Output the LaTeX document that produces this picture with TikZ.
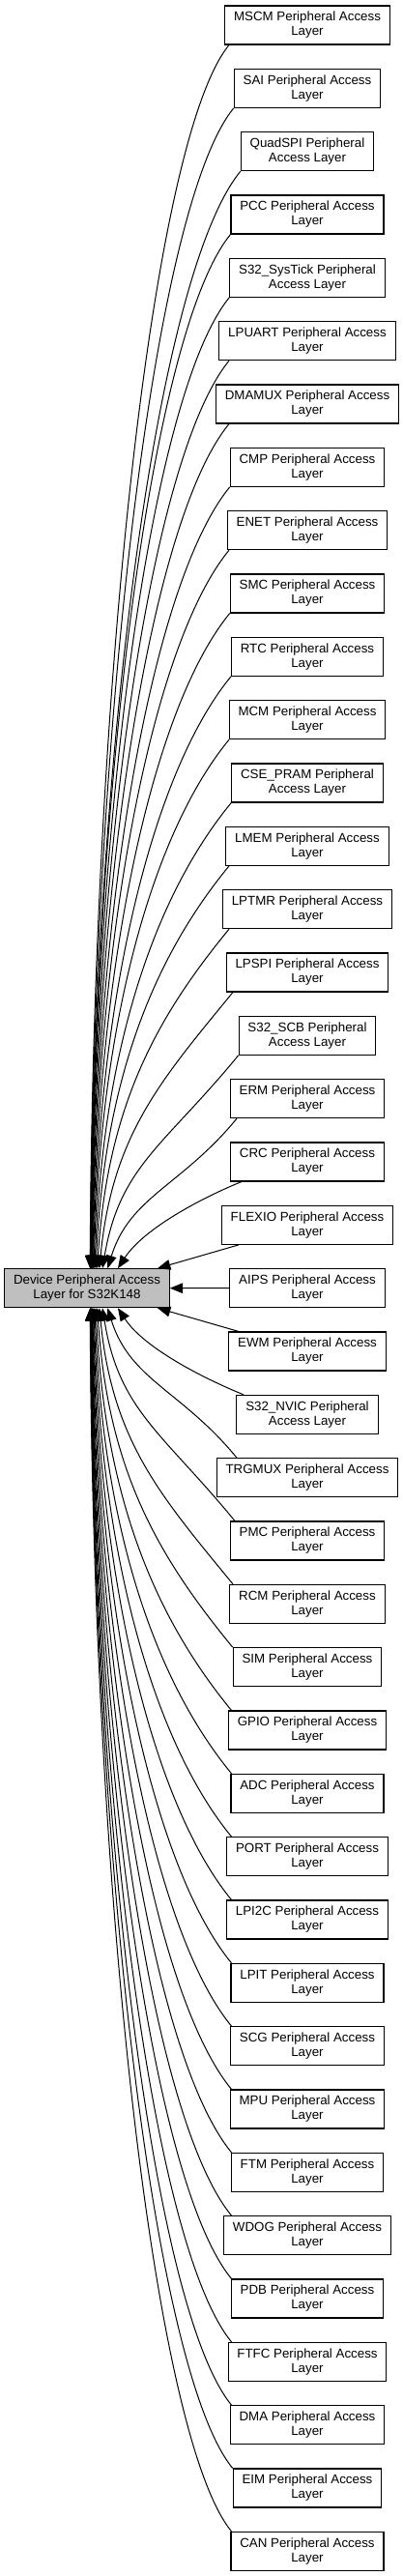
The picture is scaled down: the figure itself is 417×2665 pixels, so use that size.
\documentclass[tikz,border=0pt]{standalone}
\usepackage{fontspec}
\setmainfont{Liberation Sans}
\usetikzlibrary{arrows.meta,calc}
\definecolor{mainfill}{RGB}{191,191,191}
\newcommand\pedge[6]{%
  \draw[arr] let \p0=(main.#3 -| #5), \p1=(#1.#2),
    \n1={max(\x1,#4*0.75pt)},
    \n2={\n1-\x0},
    \n3={#6*(\y1-\y0)},
    \n4={min(1,0.45*\n3/(0.67*\n2))},
    \n5={min(1,\n2/\n3)}
  in (\p0) .. controls ({\x0+0.2*\n2*\n5*1pt}, {\y0+#6*0.48*\n3*1pt})
            and ({(\n1-0.55*\n2*\n4)*1pt}, {\y1-#6*0.67*\n2*\n4*1pt}) .. ({\n1*1pt},\y1);
}
\begin{document}
\begin{tikzpicture}[x=0.75pt,y=-0.75pt,
  box/.style={draw=black,line width=0.8pt,fill=white,
    font=\fontsize{10}{11.25}\selectfont,align=center,
    inner xsep=7pt,inner ysep=0pt,minimum height=30pt},
  mainbox/.style={box,fill=mainfill},
  arr/.style={line width=0.75pt,{Triangle[length=10pt,width=8pt]}-}]
\useasboundingbox (0,0) rectangle (417,2665);
\node[mainbox] (main) at (90,1332.7) {Device Peripheral Access\\Layer for S32K148};
\foreach \i/\t in {
1/{MSCM Peripheral Access\\Layer},
2/{SAI Peripheral Access\\Layer},
3/{QuadSPI Peripheral\\Access Layer},
4/{PCC Peripheral Access\\Layer},
5/{S32\_SysTick Peripheral\\Access Layer},
6/{LPUART Peripheral Access\\Layer},
7/{DMAMUX Peripheral Access\\Layer},
8/{CMP Peripheral Access\\Layer},
9/{ENET Peripheral Access\\Layer},
10/{SMC Peripheral Access\\Layer},
11/{RTC Peripheral Access\\Layer},
12/{MCM Peripheral Access\\Layer},
13/{CSE\_PRAM Peripheral\\Access Layer},
14/{LMEM Peripheral Access\\Layer},
15/{LPTMR Peripheral Access\\Layer},
16/{LPSPI Peripheral Access\\Layer},
17/{S32\_SCB Peripheral\\Access Layer},
18/{ERM Peripheral Access\\Layer},
19/{CRC Peripheral Access\\Layer},
20/{FLEXIO Peripheral Access\\Layer},
21/{AIPS Peripheral Access\\Layer},
22/{EWM Peripheral Access\\Layer},
23/{S32\_NVIC Peripheral\\Access Layer},
24/{TRGMUX Peripheral Access\\Layer},
25/{PMC Peripheral Access\\Layer},
26/{RCM Peripheral Access\\Layer},
27/{SIM Peripheral Access\\Layer},
28/{GPIO Peripheral Access\\Layer},
29/{ADC Peripheral Access\\Layer},
30/{PORT Peripheral Access\\Layer},
31/{LPI2C Peripheral Access\\Layer},
32/{LPIT Peripheral Access\\Layer},
33/{SCG Peripheral Access\\Layer},
34/{MPU Peripheral Access\\Layer},
35/{FTM Peripheral Access\\Layer},
36/{WDOG Peripheral Access\\Layer},
37/{PDB Peripheral Access\\Layer},
38/{FTFC Peripheral Access\\Layer},
39/{DMA Peripheral Access\\Layer},
40/{EIM Peripheral Access\\Layer},
41/{CAN Peripheral Access\\Layer}}
  \node[box] (c\i) at (318,{26+(\i-1)*65.333}) {\t};
% far edges, upper
\foreach \i in {1,...,18}{
  \pgfmathsetmacro\d{int(21-\i)}
  \pgfmathsetmacro\ex{90+64/\d}
  \pgfmathsetmacro\sxb{\d>=6 ? 237 : (\d==5 ? 241 : (\d==4 ? 243 : 245))}
  \coordinate (ex\i) at (\ex,0);
  \pedge{c\i}{south west}{north}{\sxb}{ex\i}{1}
}
% far edges, lower
\foreach \i in {24,...,41}{
  \pgfmathsetmacro\d{int(\i-21)}
  \pgfmathsetmacro\ex{90+64/\d}
  \pgfmathsetmacro\sxb{\d>=6 ? 239.5 : (\d==5 ? 241 : (\d==4 ? 243 : 245))}
  \coordinate (ex\i) at (\ex,0);
  \pedge{c\i}{north west}{south}{\sxb}{ex\i}{-1}
}
% near edges
\coordinate (ex19) at (122,0);
\coordinate (sx19) at (250,0);
\draw[arr] (main.north -| ex19) .. controls +(28,-43) and +(-35,14) .. (c19.south -| sx19);
\coordinate (ex20) at (163,0);
\coordinate (sx20) at (247,0);
\draw[arr] (main.north -| ex20) -- (c20.south -| sx20);
\draw[arr] (main.east) -- (c21.west);
\coordinate (ex22) at (163,0);
\coordinate (sx22) at (247,0);
\draw[arr] (main.south -| ex22) -- (c22.north -| sx22);
\coordinate (ex23) at (122,0);
\coordinate (sx23) at (252,0);
\draw[arr] (main.south -| ex23) .. controls +(28,43) and +(-35,-14) .. (c23.north -| sx23);
\end{tikzpicture}
\end{document}
